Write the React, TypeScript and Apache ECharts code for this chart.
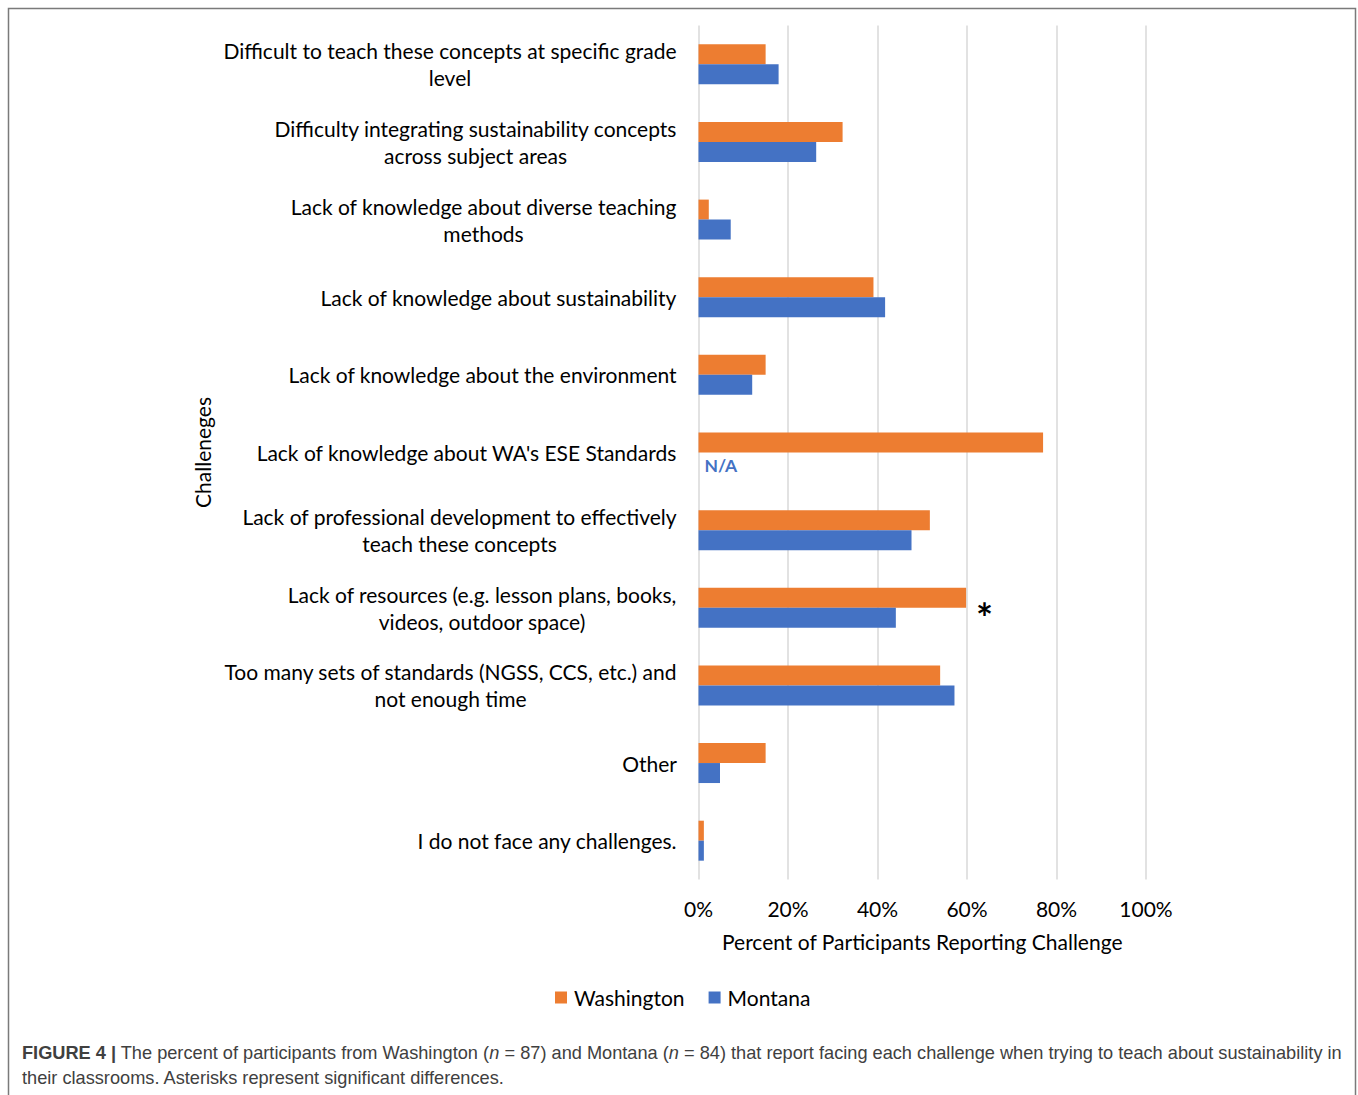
import React, { useEffect, useRef } from "react";
import * as echarts from "echarts";

const categories: string[] = [
  "Difficult to teach these concepts at specific grade\nlevel",
  "Difficulty integrating sustainability concepts\nacross subject areas",
  "Lack of knowledge about diverse teaching\nmethods",
  "Lack of knowledge about sustainability",
  "Lack of knowledge about the environment",
  "Lack of knowledge about WA's ESE Standards",
  "Lack of professional development to effectively\nteach these concepts",
  "Lack of resources (e.g. lesson plans, books,\nvideos, outdoor space)",
  "Too many sets of standards (NGSS, CCS, etc.) and\nnot enough time",
  "Other",
  "I do not face any challenges.",
];

const washington: number[] = [15.0, 32.2, 2.3, 39.1, 15.0, 77.0, 51.7, 59.8, 54.0, 15.0, 1.2];
const montana: (number | null)[] = [17.9, 26.3, 7.2, 41.7, 12.0, null, 47.6, 44.1, 57.2, 4.8, 1.2];
const significant: boolean[] = [false, false, false, false, false, false, false, true, false, false, false];

const xTicks = { min: 0, max: 100, interval: 20 };

const FONT = "Lato";
const LABEL_SIZE = 21;

export default function App() {
  const ref = useRef<HTMLDivElement>(null);
  useEffect(() => {
    document.body.style.margin = "0";
    if (!ref.current) return;
    const canvas = document.createElement("canvas");
    const ctx = canvas.getContext("2d")!;
    ctx.font = `${LABEL_SIZE}px ${FONT}`;
    const rich: Record<string, any> = {};
    categories.forEach((c, i) => {
      const w = Math.max(...c.split("\n").map((l) => ctx.measureText(l).width));
      rich["l" + i] = {
        width: Math.ceil(w) + 1,
        align: "center",
        fontFamily: FONT,
        fontSize: LABEL_SIZE,
        lineHeight: 27,
        color: "#000",
      };
    });

    const chart = echarts.init(ref.current, undefined, { renderer: "svg" });
    chart.setOption({
      animation: false,
      backgroundColor: "#fff",
      grid: { left: 698.5, right: 212, top: 25.5, bottom: 215.5, containLabel: false },
      legend: {
        data: ["Washington", "Montana"],
        top: 982,
        left: 550,
        itemWidth: 12,
        itemHeight: 12,
        itemGap: 24,
        icon: "rect",
        textStyle: { fontFamily: FONT, fontSize: 21, color: "#000", padding: [0, 0, 0, 2] },
      },
      xAxis: {
        type: "value",
        min: xTicks.min,
        max: xTicks.max,
        interval: xTicks.interval,
        axisLine: { show: false },
        axisTick: { show: false },
        splitLine: { lineStyle: { color: "#d9d9d9", width: 1.5 } },
        axisLabel: { formatter: "{value}%", fontFamily: FONT, fontSize: 21, color: "#000", margin: 18 },
        name: "Percent of Participants Reporting Challenge",
        nameLocation: "middle",
        nameGap: 51,
        nameTextStyle: { fontFamily: FONT, fontSize: 21, color: "#000" },
      },
      yAxis: {
        type: "category",
        data: categories,
        inverse: true,
        axisLine: { show: false },
        axisTick: { show: false },
        axisLabel: {
          margin: 21,
          align: "right",
          formatter: (v: string, i: number) =>
            v.split("\n").map((l) => `{l${i}|${l}}`).join("\n"),
          rich,
        },
        name: "Challeneges",
        nameLocation: "middle",
        nameRotate: 90,
        nameGap: 486,
        nameTextStyle: { fontFamily: FONT, fontSize: 21, color: "#000" },
      },
      series: [
        {
          name: "Washington",
          type: "bar",
          barGap: "0%",
          barCategoryGap: "48.5%",
          itemStyle: { color: "#ED7D31" },
          data: washington.map((v, i) =>
            significant[i]
              ? {
                  value: v,
                  label: {
                    show: true,
                    position: "right",
                    formatter: "*",
                    distance: 10,
                    offset: [0, 20],
                    fontFamily: FONT,
                    fontSize: 40,
                    fontWeight: "bold",
                    color: "#000",
                  },
                }
              : v
          ),
        },
        {
          name: "Montana",
          type: "bar",
          barGap: "0%",
          barCategoryGap: "48.5%",
          itemStyle: { color: "#4472C4" },
          data: montana.map((v) =>
            v === null
              ? {
                  value: 0,
                  label: {
                    show: true,
                    position: "right",
                    formatter: "N/A",
                    distance: 6,
                    offset: [0, 3],
                    fontFamily: FONT,
                    fontSize: 17.5,
                    fontWeight: "bold",
                    color: "#4472C4",
                  },
                }
              : v
          ),
        },
      ],
      graphic: [
        {
          type: "rect",
          shape: { x: 8.5, y: 8.5, width: 1347, height: 1100 },
          style: { fill: "none", stroke: "#7a7a7a", lineWidth: 1.5 },
          silent: true,
        },
        {
          type: "text",
          left: 22,
          top: 1040,
          style: {
            text:
              "{b|FIGURE 4 |} The percent of participants from Washington ({i|n} = 87) and Montana ({i|n} = 84) that report facing each challenge when trying to teach about sustainability in\ntheir classrooms. Asterisks represent significant differences.",
            fontFamily: "Liberation Sans",
            fontSize: 18.2,
            lineHeight: 25,
            fill: "#404040",
            rich: {
              b: { fontFamily: "Liberation Sans", fontSize: 18.2, fontWeight: "bold", fill: "#404040", lineHeight: 25 },
              i: { fontFamily: "Liberation Sans", fontSize: 18.2, fontStyle: "italic", fill: "#404040", lineHeight: 25 },
            },
          },
        },
      ],
    });
    return () => chart.dispose();
  }, []);
  return <div ref={ref} style={{ width: 1358, height: 1095 }} />;
}
